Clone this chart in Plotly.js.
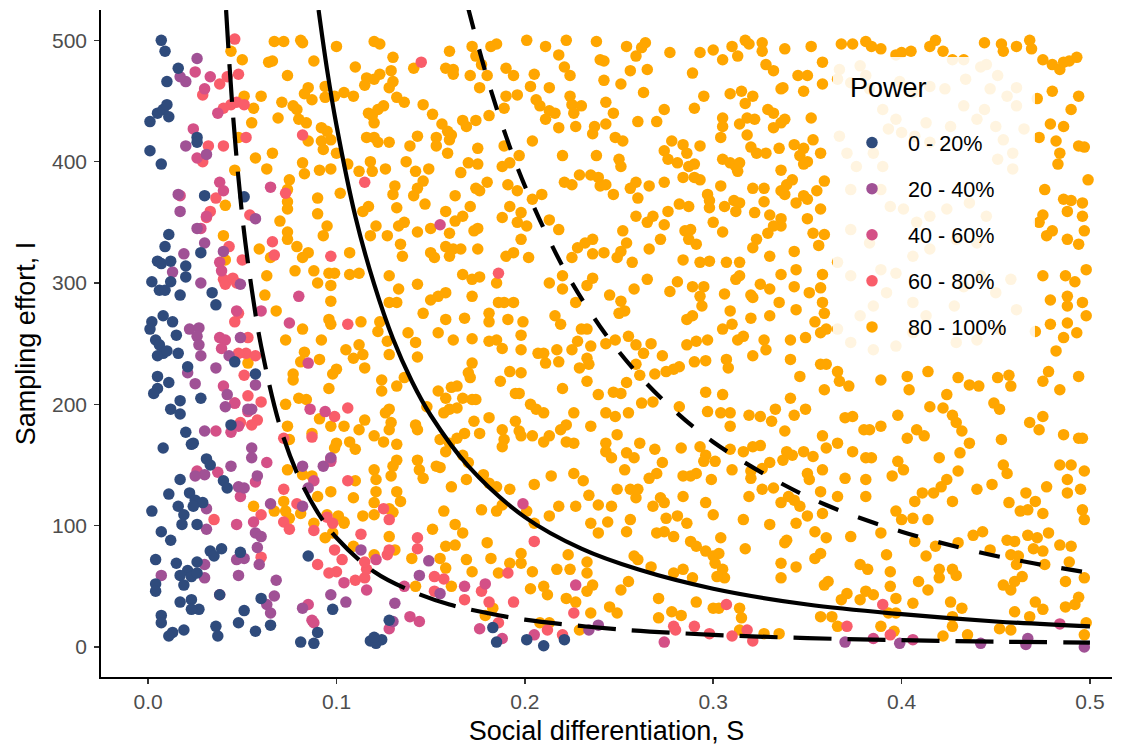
<!DOCTYPE html>
<html><head><meta charset="utf-8">
<script src="https://cdn.plot.ly/plotly-3.0.1.min.js"></script>
<style>html,body{margin:0;padding:0;background:#fff}#chart{width:1128px;height:746px}</style>
</head><body><div id="chart"></div>
<script>
// Legend categories and colours
const powerClasses = ["0 - 20%", "20 - 40%", "40 - 60%", "60 - 80%", "80 - 100%"];
const classColors = ["#2f4b7c", "#a05195", "#d45087", "#f95d6a", "#ffa600"];

// Points as [S in thousandths, I]
const pts0to20 = [[7,500],[9,491],[16,477],[10,466],[5,440],[8,443],[10,447],[11,437],[1,433],[26,420],[26,416],[1,409],[7,398],[30,372],[51,371],[11,340],
[9,330],[28,325],[5,318],[7,316],[12,318],[20,314],[20,305],[2,301],[12,301],[6,294],[9,294],[17,290],[34,292],[36,282],[8,273],[13,268],[2,268],[1,262],[15,257],[4,253],[6,249],[8,242],[5,240],[10,244],[16,242],[21,231],[46,235],[57,225],[5,223],[11,218],[5,213],[3,209],[28,205],[17,203],[12,196],[17,192],[44,183],[20,177],[24,168],[8,164],
[23,167],[31,155],[33,150],[17,138],[40,137],[42,131],[11,126],[22,127],[25,121],[29,119],[16,116],[24,116],[2,112],[19,109],[18,101],[26,101],[7,95],[12,88],[33,79],[39,81],[35,75],[49,78],[4,72],[15,69],[26,70],[21,63],[17,59],[23,58],[26,61],[19,51],[4,52],[4,46],[38,43],[17,37],[23,39],[27,31],[23,31],[7,26],[7,20],[60,40],[51,30],[48,20],[36,17],[37,9],[19,14],[13,12],[11,9],[57,13],[65,18],
[85,75],[98,31],[90,12],[81,4],[88,3],[128,22],[118,5],[121,3],[124,6],[120,8],[183,16],[185,4],[201,6],[210,1],[221,6]];

const pts20to40 = [[26,485],[20,466],[17,470],[20,413],[31,406],[16,373],[17,359],[26,345],[57,353],
[30,333],[40,326],[19,324],[13,309],[28,300],[49,299],[22,262],[27,263],[26,256],[27,249],[49,255],[43,240],[28,240],[36,230],[21,226],[25,217],[57,216],[42,208],[41,198],[53,196],[55,196],[30,178],[55,164],
[55,156],[44,149],[30,142],[25,141],[58,141],[48,132],[51,131],[31,114],[65,118],[31,97],[57,94],[60,91],[58,82],[59,68],[47,72],[51,73],[30,68],[7,59],[30,57],[48,59],[68,55],[67,42],[63,35],[65,28],
[82,149],[93,149],[97,156],[85,131],[82,116],[97,43],[105,37],[82,32],[131,36],[130,21],[144,59],[149,71],[155,44],[113,80],
[234,14],[239,18],[370,4],[399,3],[442,3],[467,7],[466,2],[497,0]];

const pts40to60 = [[25,474],[33,470],[30,460],[37,440],[24,427],[26,403],[38,383],[40,376],[65,379],[17,372],[31,355],[28,345],
[38,317],[39,310],[60,277],[47,277],[38,255],[41,253],[39,246],[40,215],[46,201],[53,194],[36,178],[44,177],[48,182],
[26,145],[37,144],[57,136],[49,124],[47,101],[56,103],[38,43],[63,152],
[88,137],[97,153],[104,53],[116,47],[121,72],[85,35],[87,22],[88,20],[128,15],[136,50],[139,25],[144,21],[168,50],
[179,52],[227,51],[176,15],[205,10],[274,4],[188,7],[385,7],[406,6],[484,19],
[155,348],[80,289],[75,267],[85,234],[86,196],[94,194],[199,118]];

const pts60to80 = [[46,501],[48,472],[38,464],[42,470],[29,455],[44,447],[47,449],[51,447],[40,444],[52,420],[32,413],[40,413],[29,400],[36,370],[33,359],[31,354],[54,356],
[43,330],[50,319],[66,334],[67,323],[40,303],[41,299],[45,304],[47,300],[46,268],[48,275],[53,255],[52,242],[48,242],[57,240],[51,224],[53,207],[60,202],[46,201],[58,187],[55,183],[49,185],
[35,105],[60,109],[60,74],
[106,137],[72,130],[79,118],[72,103],[75,97],[88,96],[95,107],[98,102],[113,93],[99,80],[103,72],[100,62],[96,61],[90,68],[110,55],[115,57],[116,64],[115,70],[127,76],[128,80],[143,90],[143,81],[152,58],[157,56],[152,46],[168,39],[125,114],[128,105],
[205,87],[191,61],[177,46],[181,37],[194,37],[226,28],[212,14],[220,10],[279,17],[280,14],[290,17],[298,11],[307,35],[310,9],[318,14],[321,5],[186,20],
[390,35],[371,17],[394,10],
[145,482],[82,422],[115,383],[73,374],[97,322],
[106,266],[99,190],[106,197],[87,173],[72,172],[97,155],[186,308]];

const pts80to100 = [[44,491],[50,484],[51,454],[48,420],[46,393],[41,364],[40,339],[41,319],[53,234],
[94,90],[98,94],[109,83],[120,76],[131,80],[140,73],[128,91],[158,83],[163,84],[155,73],[158,65],[161,50],[142,50],
[167,94],[180,86],[169,72],[172,62],[182,73],[186,61],[192,69],[198,77],[198,69],[204,62],[203,48],[210,50],[212,43],[217,64],[224,64],[223,76],[233,70],[233,61],[236,51],[233,46],[222,40],[227,37],[235,28],[179,26],[183,32],[208,20],[213,20],[229,14],[245,33],[249,28],[251,47],[255,54],[258,75],[260,72],[267,66],[279,61],[284,64],[289,57],[271,40],[271,24],[278,29],[283,26],[291,37],[300,32],[303,32],[314,32],[315,24],[327,11],[335,11],[314,14],[239,94],[254,95],[270,94],[274,95],[279,91],[288,87],[291,83],[296,79],[304,90],[300,75],[303,77],[301,69],[305,64],[306,57],[302,58],[317,81],
[357,25],[363,25],[366,17],[368,39],[371,44],[378,39],[381,46],[385,43],[389,17],[396,13],[397,28],[393,28],[394,50],[397,40],[406,36],[422,9],[427,17],[427,25],[426,37],[432,32],[435,10],[452,15],[458,14],[460,29],[471,37],[475,31],[468,25],[487,33],[492,35],[494,41],[498,20],[497,10],[497,57],[487,54],[460,54],[464,58],[454,51],[458,47],[427,64],[429,59],[420,64],[420,57],[409,54],[414,47],[394,62],[392,76],[378,68],[382,64],[361,54],[359,51],[336,69],[336,57],[344,66],[354,73],[357,77],[373,91],[360,90],[354,95],[389,94],[407,87],[413,75],[418,83],[430,86],[438,92],[443,95],[447,80],[456,88],[460,87],[458,76],[462,75],[461,68],[467,92],[472,90],[478,94],[470,81],[475,79],[476,68],[484,84],[490,83],[489,70],[339,88],[338,86],
[67,499],[72,499],[81,500],[82,498],[100,495],[120,499],[123,497],[130,486],[141,477],[160,491],[158,477],[162,476],[162,472],[172,495],[174,487],[182,495],[185,497],[201,500],[88,483],[64,482],[66,483],[74,471],[110,478],[129,475],[130,466],[123,472],[120,468],[116,469],[115,463],[128,461],[132,453],[136,449],[146,447],[151,439],[156,431],[159,425],[161,422],[160,418],[153,420],[153,413],[159,407],[143,421],[139,413],[137,400],[142,392],[149,394],[146,384],[143,378],[141,372],[147,365],[132,362],[131,380],[130,373],[126,394],[119,392],[118,400],[116,420],[120,420],[122,416],[128,416],[117,440],[119,438],[122,443],[125,446],[120,432],[109,454],[104,457],[99,454],[94,453],[94,462],[85,461],[83,456],[87,451],[77,446],[79,443],[71,449],[60,454],[56,444],[55,432],[69,436],[80,435],[84,432],[92,428],[95,425],[97,418],[92,417],[93,410],[100,407],[85,417],[66,407],[57,403],[63,394],[82,399],[83,390],[91,393],[97,394],[106,398],[112,392],[102,374],[90,370],[90,357],[74,377],[74,367],[75,385],[74,361],[70,351],[74,342],[74,336],[59,328],[65,321],[79,330],[85,325],[82,321],[95,347],[93,339],[107,325],[114,359],[117,363],[121,347],[118,339],[127,339],[133,347],[136,350],[134,332],[135,322],[143,342],[150,345],[150,325],[152,321],[158,359],[160,341],[158,330],[160,322],[162,328],[166,328],[163,351],[167,355],[171,363],[163,372],[175,345],[173,343],[175,328],[169,429],[167,434],[174,434],[181,438],[176,461],[180,471],[171,471],[177,480],[190,477],[194,471],[203,462],[205,472],[206,451],[190,454],[196,455],[189,444],[204,417],[189,413],[188,396],[192,399],[197,405],[191,381],[196,376],[180,383],[176,376],[174,378],[204,369],[192,363],[188,354],[196,350],[198,358],[201,347],[198,336],[194,325],[202,321],[190,322],[175,398],[166,391],[170,399],[175,411],
[211,495],[222,500],[238,499],[218,488],[221,478],[224,471],[240,484],[242,483],[254,495],[259,487],[262,494],[264,498],[277,490],[293,490],[300,492],[305,484],[310,495],[313,487],[317,500],[319,497],[326,498],[326,491],[338,493],[352,495],[358,482],[256,475],[265,476],[242,467],[251,464],[263,457],[213,461],[224,454],[225,447],[208,446],[213,442],[216,440],[211,435],[218,428],[226,440],[230,446],[227,429],[243,449],[247,440],[243,431],[237,429],[236,423],[248,420],[252,417],[260,433],[270,433],[274,443],[289,473],[295,454],[290,444],[328,480],[332,475],[345,471],[350,471],[358,464],[348,458],[336,460],[337,461],[309,456],[315,458],[321,454],[317,448],[329,443],[332,440],[305,436],[305,429],[304,420],[318,436],[322,435],[314,431],[318,422],[336,432],[338,435],[332,428],[352,436],[353,418],[343,414],[348,411],[357,407],[293,413],[278,417],[274,409],[276,402],[284,414],[286,407],[281,399],[287,396],[290,398],[305,402],[309,399],[312,396],[314,399],[313,392],[320,412],[323,407],[328,407],[335,411],[346,405],[350,400],[348,398],[336,393],[342,385],[339,381],[336,376],[338,373],[359,384],[355,376],[357,361],[348,372],[344,366],[350,369],[327,378],[321,378],[327,367],[322,358],[330,356],[336,353],[336,347],[332,347],[323,336],[321,329],[329,341],[343,326],[330,322],[353,341],[359,340],[356,331],[350,353],[304,380],[297,373],[298,368],[298,362],[306,363],[311,368],[314,366],[312,359],[300,350],[305,342],[284,387],[290,387],[293,385],[274,383],[259,383],[256,378],[260,370],[266,380],[282,365],[287,363],[276,359],[259,355],[265,350],[268,355],[274,348],[252,343],[254,333],[251,326],[249,321],[257,317],[266,328],[272,336],[285,343],[288,344],[287,336],[291,332],[284,319],[293,317],[298,318],[307,317],[314,317],[229,389],[235,389],[239,387],[240,380],[243,381],[247,373],[221,383],[225,381],[220,405],[238,405],[250,402],[251,396],[209,373],[213,352],[218,344],[228,329],[232,333],[236,336],[225,321],[236,324],[242,325],
[368,497],[374,497],[381,499],[384,495],[389,493],[397,488],[400,490],[405,491],[415,495],[418,500],[422,491],[427,484],[433,484],[444,498],[453,497],[454,491],[461,495],[468,500],[469,493],[475,484],[480,480],[484,476],[486,482],[489,483],[493,486],
[480,458],[472,452],[494,454],[490,443],[479,431],[486,429],[473,420],[482,417],[484,407],[483,398],[494,413],[497,412],[499,385],[476,377],[486,369],[490,368],[496,366],[488,359],[496,355],[475,356],[473,350],[480,343],[477,339],[488,336],[494,332],[497,343],[475,306],[487,306],[492,301],[498,311],[479,286],[488,289],[488,281],[496,284],[498,273],[488,267],[493,259],[479,266],[471,260],[486,255],[482,244],
[366,227],[367,219],[372,215],[389,220],[403,223],[404,212],[414,227],[430,222],[436,216],[441,215],[451,222],[458,215],[457,224],[475,219],[484,212],[494,223],[478,227],[424,208],[415,198],[422,197],[427,191],[429,185],[432,178],[436,168],[449,201],[452,196],[453,171],[468,185],[473,179],[475,190],[486,175],[494,172],[496,172],[398,191],[408,179],[412,174],[403,172],[380,179],[383,179],[389,182],[370,189],[374,190],[366,168],[374,161],[381,156],[384,156],[398,153],[401,146],[395,141],[420,156],[431,160],[430,145],[424,138],[421,132],[417,127],[411,127],[407,120],[427,120],[440,130],[448,134],[454,150],[456,143],[466,127],[471,120],[477,132],[484,150],[490,150],[497,145],[488,138],[488,127],[495,130],[457,119],[463,112],[467,113],[475,110],[496,113],[497,105],[370,139],[381,138],[381,124],[366,124],[397,112],[400,105],[414,105],[406,106],
[367,476],[378,479],[381,471],[366,468],[373,465],[383,460],[399,466],[406,457],[415,462],[423,460],[434,468],[442,478],[445,480],[451,471],[461,461],[447,460],[456,454],[461,446],[433,446],[440,435],[444,443],[450,429],[454,418],[459,407],[451,402],[459,394],[465,427],[390,443],[397,435],[393,427],[400,424],[407,421],[413,432],[426,429],[415,416],[367,421],[371,407],[376,396],[385,407],[390,396],[373,377],[389,377],[394,363],[401,361],[408,350],[415,355],[424,361],[436,366],[445,355],[429,336],[440,333],[415,328],[406,322],[373,344],[383,333],[366,317],[373,306],[389,311],[397,308],[392,292],[385,281],[378,273],[406,284],[413,273],[428,281],[433,297],[442,306],[450,292],[458,303],[461,278],[452,262],[440,253],[429,251],[406,259],[397,248],[385,245],[373,251],[366,262],
[63,306],[78,310],[88,310],[96,308],[99,308],[107,307],[112,308],[90,300],[97,298],[62,290],[68,277],[97,285],[96,270],[97,266],[82,262],[73,253],[92,253],[83,243],[81,235],[91,237],[77,225],[77,220],[100,229],[98,225],[96,213],[80,205],[84,204],[73,200],[91,188],[97,182],[74,182],[75,171],[87,176],[104,182],[112,179],[115,187],[100,168],[99,164],[107,169],[110,163],[120,174],[125,169],[132,167],[128,179],[129,185],[126,193],[128,196],[124,220],[124,211],[132,215],[115,230],[105,245],[112,249],[114,241],[109,238],[128,241],[127,252],[122,260],[123,268],[113,268],[128,284],[132,284],[133,295],[128,306],[143,299],[150,286],[154,289],[158,292],[158,270],[146,275],[168,271],[172,289],[167,307],[172,303],[176,305],[185,300],[186,284],[189,284],[194,284],[181,275],[181,268],[191,270],[199,268],[198,257],[185,253],[181,252],[188,246],[198,245],[207,242],[172,254],[162,253],[154,259],[138,259],[142,251],[143,239],[172,234],[170,226],[171,222],[164,215],[161,214],[154,211],[158,205],[167,205],[172,204],[174,204],[181,189],[173,186],[164,197],[160,196],[157,193],[148,198],[142,183],[143,179],[136,222],[187,219],[192,227],[198,226],[195,209],[197,209],[203,200],[206,196],[195,186],[188,179],[189,171],[188,165],[197,178],[198,174],[204,174],[176,176],[168,176],[164,172],[160,168],[155,171],[158,161],[153,149],[155,148],[143,154],[144,146],[146,139],[132,154],[130,149],[129,141],[120,146],[121,138],[121,128],[132,128],[134,120],[110,137],[109,123],[120,119],[120,109],[114,108],[104,103],[128,114],[130,111],[157,112],[161,132],[169,138],[178,142],[181,135],[185,132],[192,130],[177,113],[185,112],[188,117],[205,134],[201,112],[205,102],[163,101],[151,97],[167,158],[170,152],[90,124],[97,128],[87,141],[82,142],[74,146],[67,112],[73,112],[72,120],[56,116],[75,106],[81,110],[88,102],[95,109],[101,108],[104,102],
[213,300],[220,295],[220,306],[227,284],[233,298],[236,304],[245,290],[251,285],[253,277],[250,275],[258,295],[265,303],[277,293],[281,301],[289,297],[295,297],[293,289],[294,281],[306,291],[309,277],[320,271],[310,266],[305,262],[286,270],[289,273],[312,303],[314,306],[320,290],[325,299],[330,295],[321,288],[335,284],[330,273],[344,278],[343,297],[351,292],[357,296],[358,284],[354,268],[359,275],[360,262],[357,259],[336,307],[344,311],[358,307],[216,273],[219,266],[230,262],[233,262],[228,252],[235,248],[225,245],[217,245],[210,242],[211,234],[218,235],[233,238],[229,230],[234,233],[243,250],[248,253],[255,256],[259,249],[263,242],[259,233],[267,250],[273,240],[282,231],[279,229],[275,227],[269,225],[261,224],[286,249],[291,252],[297,253],[290,235],[296,236],[307,237],[308,230],[313,253],[316,256],[321,240],[327,253],[328,245],[341,253],[349,255],[341,237],[357,233],[360,233],[346,223],[359,212],[233,219],[220,213],[239,208],[247,210],[251,209],[254,218],[262,201],[268,202],[282,198],[296,210],[297,194],[305,208],[304,193],[309,193],[309,182],[319,191],[325,190],[333,196],[341,205],[343,191],[349,196],[331,186],[338,178],[358,174],[360,164],[210,193],[226,193],[243,193],[248,190],[255,193],[222,183],[219,179],[213,174],[210,169],[222,169],[226,168],[235,182],[249,175],[243,168],[243,161],[246,156],[254,160],[258,156],[261,168],[269,163],[273,152],[283,164],[293,165],[296,158],[295,153],[301,153],[309,163],[310,146],[316,161],[321,165],[325,166],[320,145],[320,139],[326,147],[330,152],[339,161],[337,154],[342,158],[348,161],[353,157],[358,146],[350,143],[351,138],[357,128],[340,124],[336,119],[343,121],[332,131],[319,124],[326,130],[284,141],[288,141],[299,138],[291,143],[284,124],[296,119],[300,109],[281,108],[286,102],[274,119],[272,123],[270,143],[266,139],[253,146],[249,130],[256,130],[259,123],[260,130],[246,116],[239,117],[234,125],[231,137],[226,143],[214,141],[227,116],[218,116],[213,108],[235,102],[244,103],[256,105],[268,116],[275,106],[316,105],[330,101],[346,116],[350,108],[358,110],[344,102]];

// Reference curves: S and I pairs
const solidS = [0.0905,0.095,0.1,0.11,0.12,0.13,0.14,0.15,0.17,0.2,0.23,0.26,0.3,0.35,0.4,0.45,0.5];
const solidI = [525,476,430,355,299,254,219,191,149,107,81,64,48,35,27,21,17];
const upperDashS = [0.170,0.18,0.19,0.2,0.22,0.24,0.26,0.28,0.3,0.33,0.36,0.4,0.44,0.47,0.5];
const upperDashI = [526,469,421,380,314,264,225,194,169,140,117,95,78.5,69,61];
const lowerDashS = [0.0414,0.045,0.05,0.055,0.06,0.07,0.08,0.09,0.1,0.12,0.14,0.16,0.18,0.2,0.25,0.3,0.35,0.4,0.45,0.5];
const lowerDashI = [525,440,355,295,248,182,140,111,90,62,46,35,28,22.5,14.5,10,7.3,5.6,4.4,3.6];

const xTickVals = [0, 0.1, 0.2, 0.3, 0.4, 0.5];
const xTickText = ["0.0", "0.1", "0.2", "0.3", "0.4", "0.5"];
const yTickVals = [0, 100, 200, 300, 400, 500];
const yTickText = ["0", "100", "200", "300", "400", "500"];
const legendTitle = "Power";

const groups = [pts0to20, pts20to40, pts40to60, pts60to80, pts80to100];
const FONT = "Liberation Sans, Arial, Helvetica, sans-serif";
const traces = [];
// draw orange first, others above
[4, 3, 2, 1, 0].forEach(function (k) {
  traces.push({
    type: "scatter", mode: "markers", showlegend: false, hoverinfo: "skip",
    x: groups[k].map(p => p[0] / 1000), y: groups[k].map(p => p[1]),
    marker: { color: classColors[k], size: 11.5, line: { width: 0 } }
  });
});
traces.push({ type: "scatter", mode: "lines", x: solidS, y: solidI, showlegend: false, hoverinfo: "skip",
  line: { color: "black", width: 4.2, shape: "spline", smoothing: 1 } });
traces.push({ type: "scatter", mode: "lines", x: upperDashS, y: upperDashI, showlegend: false, hoverinfo: "skip",
  line: { color: "black", width: 4.2, shape: "spline", smoothing: 1, dash: "21px,21px" } });
traces.push({ type: "scatter", mode: "lines", x: lowerDashS, y: lowerDashI, showlegend: false, hoverinfo: "skip",
  line: { color: "black", width: 4.2, shape: "spline", smoothing: 1, dash: "38px,16px" } });
// legend entries
powerClasses.forEach(function (name, k) {
  traces.push({ type: "scatter", mode: "markers", name: name, x: [null], y: [null],
    legendgroup: "g" + k, marker: { color: classColors[k], size: 11.5 } });
});

const layout = {
  width: 1128, height: 746,
  margin: { l: 101, r: 16, t: 10, b: 69 },
  paper_bgcolor: "white", plot_bgcolor: "white",
  font: { family: FONT, color: "black" },
  showlegend: true,
  legend: {
    x: 0.727, y: 0.832, xanchor: "left", yanchor: "top",
    bgcolor: "rgba(0,0,0,0)", borderwidth: 0,
    font: { size: 21.6, family: FONT, color: "black" },
    tracegroupgap: 15, traceorder: "grouped", itemwidth: 62
  },
  shapes: [{
    type: "rect", xref: "paper", yref: "paper", layer: "above",
    x0: 0.724, x1: 0.9238, y0: 0.4708, y1: 0.9295,
    fillcolor: "rgba(255,255,255,0.88)", line: { width: 0 }
  }],
  annotations: [{
    text: legendTitle, xref: "paper", yref: "paper", x: 0.7389, y: 0.883,
    xanchor: "left", yanchor: "middle", showarrow: false,
    font: { size: 27, family: FONT, color: "black" }
  }],
  xaxis: {
    range: [-0.025, 0.5117], tickvals: xTickVals, ticktext: xTickText,
    showgrid: false, zeroline: false, showline: true, linecolor: "black", linewidth: 1.8,
    ticks: "outside", ticklen: 5, tickwidth: 1.5, tickcolor: "#333333",
    tickfont: { size: 21, color: "#4d4d4d", family: FONT },
    title: { text: "Social differentiation, S", font: { size: 27, color: "black", family: FONT }, standoff: 10 }
  },
  yaxis: {
    range: [-24.75, 525], tickvals: yTickVals, ticktext: yTickText,
    showgrid: false, zeroline: false, showline: true, linecolor: "black", linewidth: 1.8,
    ticks: "outside", ticklen: 5, tickwidth: 1.5, tickcolor: "#333333", ticklabelstandoff: 3,
    tickfont: { size: 21, color: "#4d4d4d", family: FONT },
    title: { text: "Sampling effort, I", font: { size: 27, color: "black", family: FONT }, standoff: 8 }
  }
};
Plotly.newPlot("chart", traces, layout, { displayModeBar: false, staticPlot: true });
</script>
</body></html>
